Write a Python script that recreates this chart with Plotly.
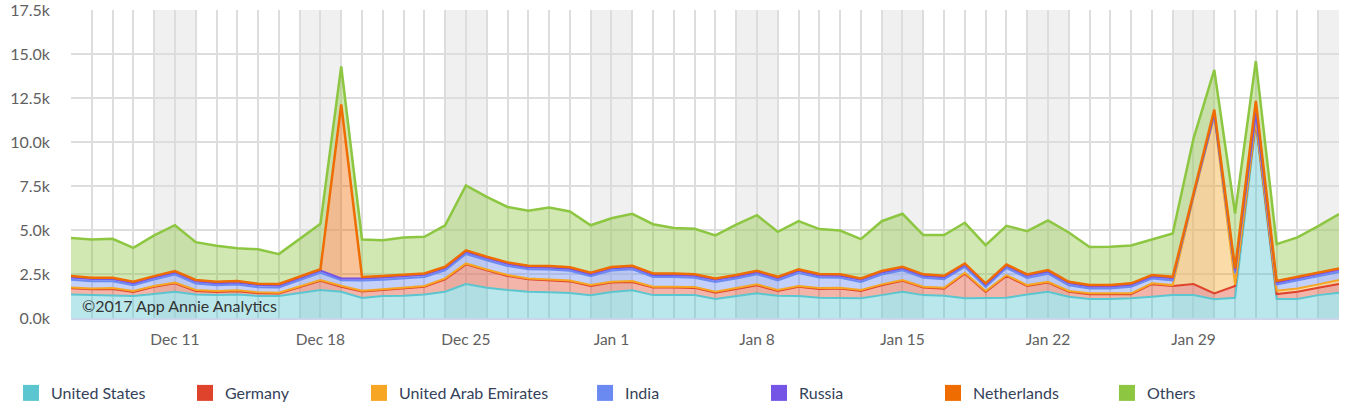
import pandas as pd
import plotly.graph_objects as go

dates = pd.date_range("2016-12-06", "2017-02-05", freq="D")

united_states = [1340,1300,1300,1250,1360,1490,1340,1300,1340,1250,1250,1440,1590,
                 1490,1140,1250,1270,1340,1490,1930,1720,1590,1490,1460,1420,
                 1300,1480,1580,1300,1300,1300,1080,1250,1400,1270,1250,1150,
                 1120,1120,1300,1490,1300,1270,1120,1120,1150,1340,1490,1210,
                 1080,1080,1120,1210,1300,1300,1070,1150,11000,1080,1080,1300,1440]
germany = [350,330,350,230,410,480,200,180,180,160,140,290,520,
           290,360,340,400,430,710,1120,990,800,710,680,660,
           520,530,470,430,430,410,360,420,460,270,520,500,
           550,420,560,620,430,400,1400,360,1240,480,520,280,
           270,270,230,710,520,630,330,670,150,280,410,420,490]
uae = [50,50,50,50,50,50,50,50,50,50,50,50,50,
       50,50,50,50,50,50,50,50,50,50,50,50,
       50,50,50,50,50,50,50,50,50,50,50,50,
       50,50,50,50,50,50,50,50,50,50,50,50,
       50,50,50,50,50,4920,10050,80,100,190,190,190,230]
india = [440,410,390,330,360,450,370,330,330,290,290,360,410,
         320,580,540,520,510,460,540,520,520,520,560,550,
         500,640,670,550,550,520,560,520,570,550,740,600,
         560,460,560,550,500,480,330,240,400,410,460,320,
         270,270,370,270,270,100,100,650,350,350,460,480,460]
russia = [120,120,120,120,120,120,120,120,120,120,120,120,120,
          100,120,120,120,120,120,120,120,120,120,120,120,
          120,120,120,120,120,120,120,120,120,120,120,120,
          120,120,120,120,120,120,120,120,120,120,120,120,
          120,120,120,120,120,50,80,150,100,120,120,120,120]
netherlands = [80,80,80,80,80,80,80,80,80,80,80,80,80,
               9890,80,80,80,80,80,80,80,80,80,80,80,
               80,80,80,80,80,80,80,80,80,80,80,80,
               80,80,80,80,80,80,80,80,80,80,80,80,
               80,80,80,80,80,70,210,120,630,80,80,80,80]
others = [2170,2170,2210,1930,2310,2600,2150,2040,1870,1950,1700,2140,2580,
          2150,2130,2040,2140,2080,2360,3690,3400,3150,3120,3330,3170,
          2700,2770,2950,2800,2590,2590,2440,2870,3160,2560,2740,2550,
          2490,2230,2830,3010,2230,2310,2310,2170,2200,2450,2820,2800,
          2160,2180,2150,2040,2460,3120,2260,3120,2270,2100,2240,2630,3080]

series_names = ["United States", "Germany", "United Arab Emirates", "India",
                "Russia", "Netherlands", "Others"]
series_values = [united_states, germany, uae, india, russia, netherlands, others]
line_colors = ["#5bc6cf", "#e0432b", "#f6a623", "#6a8af2", "#7455e6", "#ef6c00", "#8dc641"]
fill_colors = ["rgba(91,198,207,0.42)", "rgba(224,67,43,0.40)", "rgba(246,166,35,0.40)",
               "rgba(106,138,242,0.40)", "rgba(116,85,230,0.40)", "rgba(239,108,0,0.40)",
               "rgba(141,198,65,0.40)"]
line_widths = [2, 2, 2, 2, 2, 2.5, 2.5]

x_tick_dates = ["2016-12-11", "2016-12-18", "2016-12-25", "2017-01-01",
                "2017-01-08", "2017-01-15", "2017-01-22", "2017-01-29"]
x_tick_labels = ["Dec 11", "Dec 18", "Dec 25", "Jan 1", "Jan 8", "Jan 15", "Jan 22", "Jan 29"]
y_tick_vals = [0, 2500, 5000, 7500, 10000, 12500, 15000, 17500]
y_tick_labels = ["0.0k", "2.5k", "5.0k", "7.5k", "10.0k", "12.5k", "15.0k", "17.5k"]

legend_x = [-0.0473, 0.0899, 0.2271, 0.4054, 0.5426, 0.6798, 0.8170]

FONT = "Lato"
fig = go.Figure()

for i, (name, vals) in enumerate(zip(series_names, series_values)):
    fig.add_trace(go.Scatter(
        x=dates, y=vals, name=name, stackgroup="one", mode="lines",
        line=dict(color=line_colors[i], width=line_widths[i]),
        fillcolor=fill_colors[i], showlegend=False,
    ))

for i, name in enumerate(series_names):
    lg = "legend" if i == 0 else f"legend{i+1}"
    fig.add_trace(go.Scatter(
        x=[None], y=[None], name=name, mode="markers",
        marker=dict(symbol="square", size=16, color=line_colors[i]),
        showlegend=True, legend=lg,
    ))

# weekend shading (Saturday -> Monday)
last = dates[-1]
for d in dates:
    if d.weekday() == 5:
        end = min(d + pd.Timedelta(days=2), last)
        fig.add_shape(type="rect", xref="x", yref="paper", x0=d, x1=end, y0=0, y1=1,
                      fillcolor="#f0f0f0", line=dict(width=0), layer="below")

layout_legends = {}
for i in range(7):
    key = "legend" if i == 0 else f"legend{i+1}"
    layout_legends[key] = dict(
        x=legend_x[i], y=-0.2435, xanchor="left", yanchor="middle",
        orientation="h", bgcolor="rgba(0,0,0,0)",
        font=dict(family=FONT, size=16, color="#34425a"),
    )

fig.update_layout(
    width=1350, height=417,
    margin=dict(l=71, r=11, t=10, b=99, autoexpand=False),
    paper_bgcolor="white", plot_bgcolor="white",
    font=dict(family=FONT, size=14, color="#606060"),
    hovermode=False,
    xaxis=dict(
        type="date", range=[dates[0], dates[-1]],
        tickvals=x_tick_dates, ticktext=x_tick_labels,
        showgrid=False, zeroline=False,
        showline=True, linecolor="#ccd6eb", linewidth=1.5,
        ticks="", tickfont=dict(family=FONT, size=15.5, color="#606060"),
        ticklabelstandoff=7,
        minor=dict(dtick=86400000, showgrid=True, gridcolor="#dddddd", gridwidth=1.5,
                   tick0=dates[0]),
    ),
    yaxis=dict(
        range=[0, 17500], tickvals=y_tick_vals, ticktext=y_tick_labels,
        showgrid=True, gridcolor="#dddddd", gridwidth=1.5,
        zeroline=False, ticks="",
        tickfont=dict(family=FONT, size=16, color="#606060"),
        ticklabelstandoff=20, ticklabeloverflow="allow",
    ),
    annotations=[dict(
        text="©2017 App Annie Analytics", xref="paper", yref="paper",
        x=0.007, y=0.04, xanchor="left", yanchor="middle", showarrow=False,
        font=dict(family=FONT, size=16, color="#333333"),
    )],
    **layout_legends,
)

fig.write_html("out.html")
